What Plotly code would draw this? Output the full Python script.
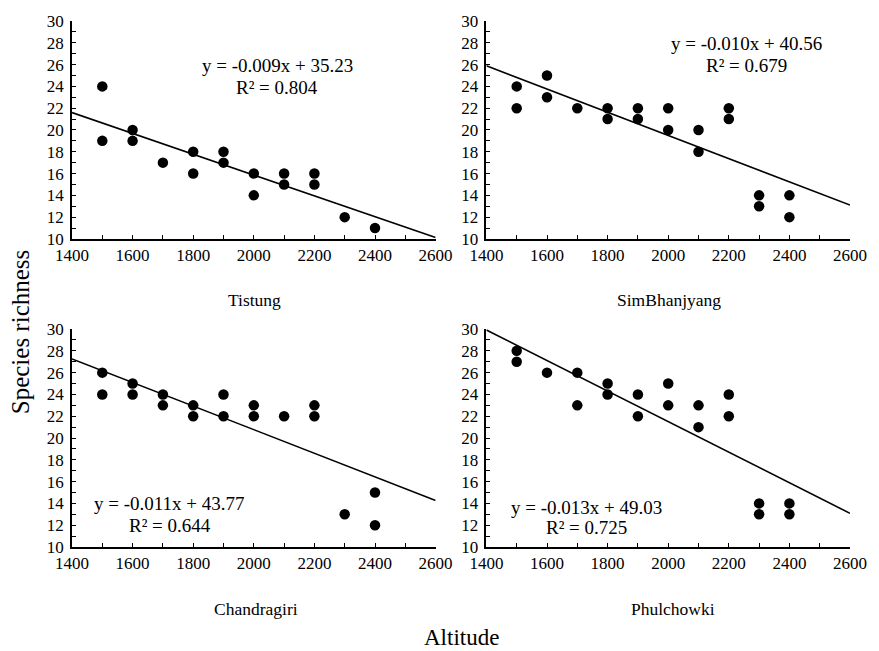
import numpy as np
import plotly.graph_objects as go

# ---- data ----
sites = ["Tistung", "SimBhanjyang", "Chandragiri", "Phulchowki"]

tistung_alt = [1500, 1500, 1600, 1600, 1700, 1800, 1800, 1900, 1900, 2000, 2000, 2100, 2100, 2200, 2200, 2300, 2400]
tistung_rich = [24, 19, 20, 19, 17, 18, 16, 18, 17, 16, 14, 16, 15, 16, 15, 12, 11]

sim_alt = [1500, 1500, 1600, 1600, 1700, 1800, 1800, 1900, 1900, 2000, 2000, 2100, 2100, 2200, 2200, 2300, 2300, 2400, 2400]
sim_rich = [24, 22, 25, 23, 22, 22, 21, 22, 21, 22, 20, 20, 18, 22, 21, 14, 13, 14, 12]

chan_alt = [1500, 1500, 1600, 1600, 1700, 1700, 1800, 1800, 1900, 1900, 2000, 2000, 2100, 2200, 2200, 2300, 2400, 2400]
chan_rich = [26, 24, 25, 24, 24, 23, 23, 22, 24, 22, 23, 22, 22, 23, 22, 13, 15, 12]

phul_alt = [1500, 1500, 1600, 1700, 1700, 1800, 1800, 1900, 1900, 2000, 2000, 2100, 2100, 2200, 2200, 2300, 2300, 2400, 2400]
phul_rich = [28, 27, 26, 26, 23, 25, 24, 24, 22, 25, 23, 23, 21, 24, 22, 14, 13, 14, 13]

equations = ["y = -0.009x + 35.23", "y = -0.010x + 40.56", "y = -0.011x + 43.77", "y = -0.013x + 49.03"]
r2_labels = ["R² = 0.804", "R² = 0.679", "R² = 0.644", "R² = 0.725"]

x_ticks = [1400, 1600, 1800, 2000, 2200, 2400, 2600]
y_ticks = [10, 12, 14, 16, 18, 20, 22, 24, 26, 28, 30]

series = [(tistung_alt, tistung_rich), (sim_alt, sim_rich), (chan_alt, chan_rich), (phul_alt, phul_rich)]

# ---- layout geometry (pixels) ----
W, H = 879, 651
L, R, T, B = 72, 26, 16, 104
PW, PH = W - L - R, H - T - B


def px(x):
    return (x - L) / PW


def py(y):
    return (H - B - y) / PH


FONT = "Liberation Serif, Times New Roman, serif"

fig = go.Figure()

xdoms = [[0, px(437)], [px(488), 1], [0, px(437)], [px(488), 1]]
ydoms = [[py(236), 1], [py(236), 1], [0, py(327)], [0, py(327)]]

for i, (xa, ya) in enumerate(series):
    k = "" if i == 0 else str(i + 1)
    slope, icpt = np.polyfit(xa, ya, 1)
    lx = np.array([x_ticks[0], x_ticks[-1]])
    fig.add_trace(go.Scatter(x=lx, y=slope * lx + icpt, mode="lines",
                             line=dict(color="black", width=1.6),
                             xaxis="x" + k, yaxis="y" + k, showlegend=False,
                             hoverinfo="skip"))
    fig.add_trace(go.Scatter(x=xa, y=ya, mode="markers",
                             marker=dict(color="black", size=10.5),
                             xaxis="x" + k, yaxis="y" + k, showlegend=False))
    axcommon = dict(showline=True, linecolor="black", linewidth=1.5, showgrid=False,
                    zeroline=False, ticks="inside", ticklen=4, tickcolor="black",
                    tickwidth=1.2, tickfont=dict(family=FONT, size=17, color="black"))
    fig.layout["xaxis" + k] = dict(axcommon, domain=xdoms[i], range=[1400, 2600],
                                   tickvals=x_ticks, anchor="y" + k,
                                   minor=dict(dtick=100, ticks="inside", ticklen=4,
                                              tickcolor="black", tickwidth=1.2))
    fig.layout["yaxis" + k] = dict(axcommon, domain=ydoms[i], range=[10, 30],
                                   tickvals=y_ticks, anchor="x" + k,
                                   ticklabelstandoff=3,
                                   minor=dict(dtick=1, ticks="inside", ticklen=4,
                                              tickcolor="black", tickwidth=1.2))

ann = []
eq_pos = [(278, 61, 278, 83), (749, 39, 749, 61), (170, 503, 170, 525), (588, 507, 588, 527)]
for i in range(4):
    ex, ey, rx, ry = eq_pos[i]
    ann.append(dict(x=px(ex), y=py(ey), text=equations[i]))
    ann.append(dict(x=px(rx), y=py(ry), text=r2_labels[i]))

name_pos = [(255, 298), (671, 298), (257, 610), (675, 610)]
for i in range(4):
    ann.append(dict(x=px(name_pos[i][0]), y=py(name_pos[i][1]), text=sites[i],
                    font=dict(family=FONT, size=17.5, color="black")))

ann.append(dict(x=px(463), y=py(638), text="Altitude",
                font=dict(family=FONT, size=23, color="black")))
ann.append(dict(x=px(20), y=py(330), text="Species richness", textangle=-90,
                font=dict(family=FONT, size=25, color="black")))

for a in ann:
    a.setdefault("font", dict(family=FONT, size=19, color="black"))
    a.update(xref="paper", yref="paper", showarrow=False, xanchor="center", yanchor="middle")

fig.update_layout(width=W, height=H, margin=dict(l=L, r=R, t=T, b=B),
                  paper_bgcolor="white", plot_bgcolor="white", annotations=ann,
                  font=dict(family=FONT, color="black"))

fig.write_html("out.html")
